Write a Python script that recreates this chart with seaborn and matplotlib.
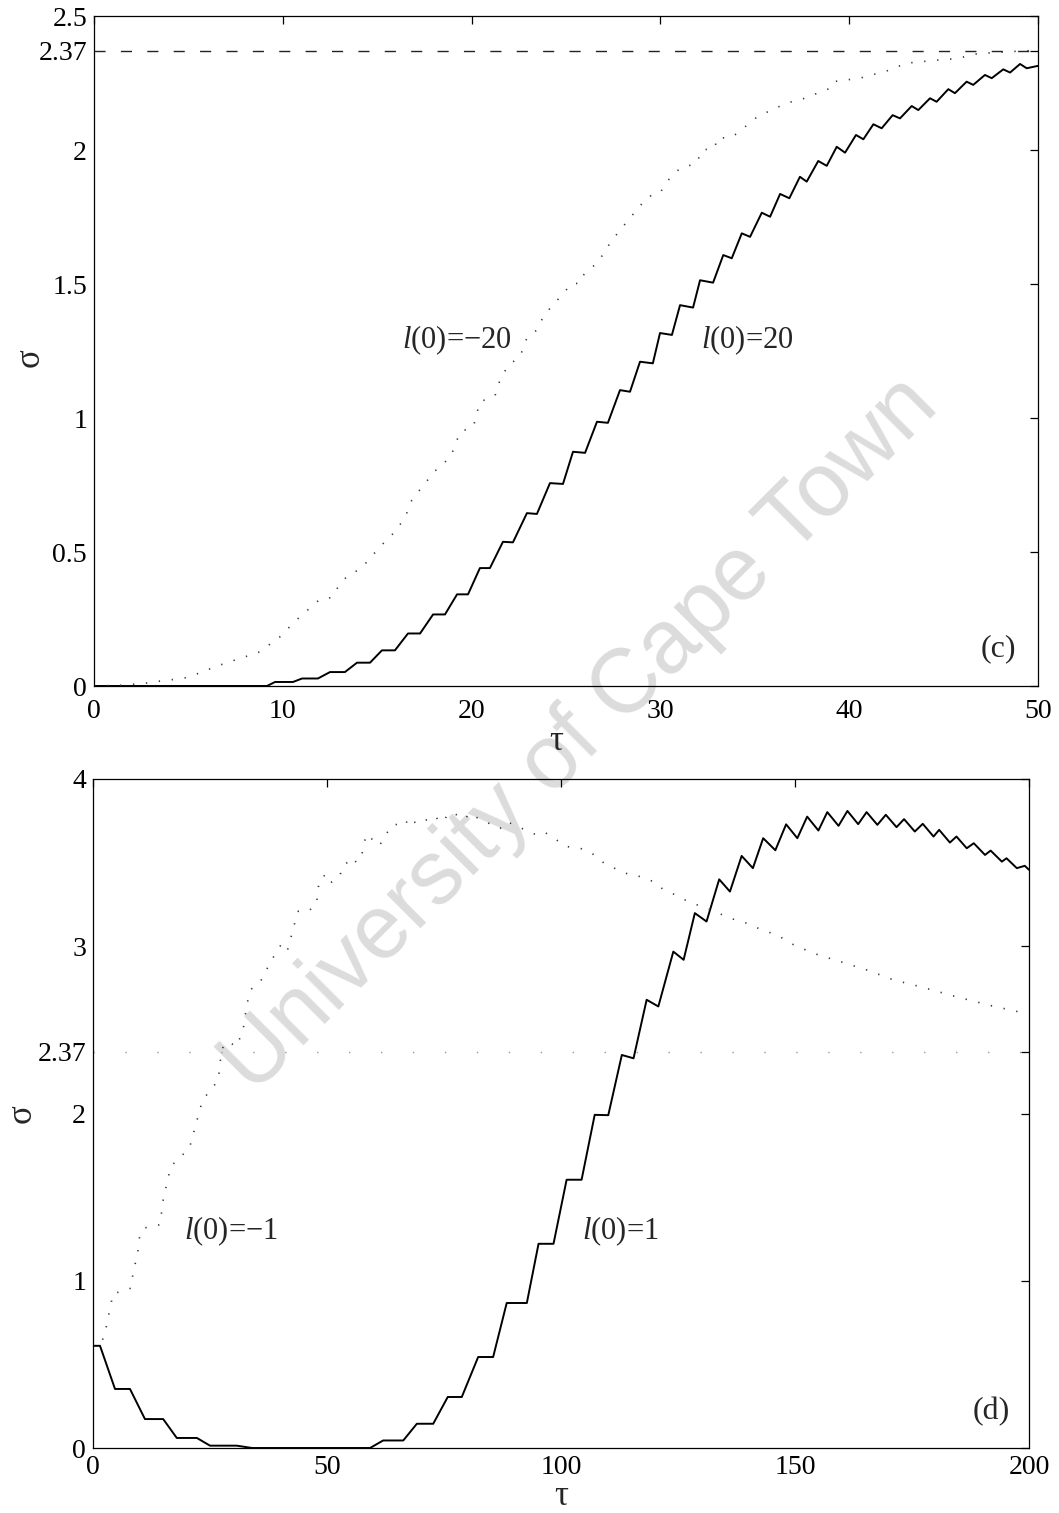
import matplotlib
matplotlib.use("Agg")
import matplotlib.pyplot as plt
import seaborn as sns
import pandas as pd

# ---------------- panel (c) data ----------------
tau_c_pos = [0, 9.16, 9.59, 10.54, 11.02, 11.86, 12.50, 13.29, 13.93, 14.62,
             15.25, 15.94, 16.63, 17.27, 17.96, 18.59, 19.23, 19.81, 20.44, 20.97,
             21.66, 22.19, 22.93, 23.46, 24.15, 24.84, 25.37, 26.01, 26.64, 27.22,
             27.86, 28.39, 28.92, 29.60, 29.98, 30.61, 31.04, 31.73, 32.10, 32.79,
             33.33, 33.78, 34.31, 34.75, 35.37, 35.81, 36.34, 36.83, 37.39, 37.75,
             38.36, 38.81, 39.34, 39.78, 40.36, 40.75, 41.28, 41.72, 42.30, 42.69,
             43.31, 43.66, 44.28, 44.63, 45.25, 45.60, 46.22, 46.57, 47.19, 47.55,
             48.16, 48.52, 49.05, 49.40, 50.0]
sig_c_pos = [0, 0, 0.015, 0.015, 0.028, 0.028, 0.052, 0.052, 0.087, 0.087,
             0.133, 0.133, 0.196, 0.196, 0.267, 0.267, 0.342, 0.342, 0.44, 0.44,
             0.538, 0.536, 0.645, 0.642, 0.757, 0.754, 0.874, 0.870, 0.986, 0.982,
             1.104, 1.098, 1.210, 1.204, 1.317, 1.310, 1.421, 1.412, 1.514, 1.505,
             1.608, 1.596, 1.689, 1.676, 1.766, 1.751, 1.836, 1.820, 1.900, 1.882,
             1.959, 1.941, 2.012, 1.990, 2.056, 2.040, 2.096, 2.081, 2.130, 2.118,
             2.164, 2.149, 2.193, 2.180, 2.227, 2.212, 2.255, 2.243, 2.280, 2.268,
             2.301, 2.289, 2.321, 2.305, 2.314]

tau_c_neg = [0, 1.5, 2.79, 3.76, 4.73, 5.61, 6.5, 7.6, 8.7, 9.8,
             10.7, 11.97, 12.6, 13.03, 13.45, 14.14, 15.18, 16.0, 16.5, 16.83,
             17.36, 18.03, 18.89, 19.39, 20.09, 20.44, 21.24, 21.5, 21.94, 22.56,
             22.92, 23.45, 23.8, 24.15, 24.86, 25.3, 25.74, 25.92, 26.71, 27.4,
             28.2, 28.9, 29.36, 29.98, 30.42, 31.04, 31.92, 32.19, 32.89, 32.98,
             33.78, 34.39, 35.1, 36.07, 36.95, 37.3, 38.98, 39.16, 40.57, 41.99,
             43.04, 44.19, 44.81, 45.34, 45.78, 46.49, 46.93, 47.63, 48.43, 49.4,
             50]
sig_c_neg = [0, 0.003, 0.011, 0.021, 0.028, 0.049, 0.074, 0.10, 0.125, 0.18,
             0.245, 0.324, 0.33, 0.382, 0.412, 0.438, 0.522, 0.58, 0.633, 0.693,
             0.741, 0.80, 0.855, 0.948, 0.967, 1.06, 1.083, 1.141, 1.197, 1.228,
             1.297, 1.328, 1.378, 1.409, 1.465, 1.502, 1.502, 1.533, 1.583, 1.66,
             1.73, 1.79, 1.826, 1.84, 1.888, 1.932, 1.95, 2.0, 2.006, 2.044,
             2.047, 2.081, 2.122, 2.156, 2.18, 2.184, 2.23, 2.255, 2.268, 2.295,
             2.324, 2.332, 2.336, 2.339, 2.342, 2.355, 2.361, 2.363, 2.367, 2.37,
             2.372]

# ---------------- panel (d) data ----------------
tau_d_pos = [0, 1.5, 4.7, 7.9, 11.1, 15.0, 17.9, 22.2, 25.0, 30.7,
             34, 59.2, 62.0, 66.3, 69.2, 72.7, 75.8, 78.8, 82.3, 85.5,
             88.4, 92.7, 95.2, 98.4, 101.2, 104.4, 107.2, 110.1, 113.0, 115.5,
             118.3, 120.8, 124.0, 126.2, 128.6, 131.1, 133.8, 136.1, 138.6, 141.0,
             143.2, 145.8, 148.1, 150.5, 152.6, 155.0, 156.9, 159.3, 161.2, 163.5,
             165.3, 167.6, 169.4, 171.7, 173.3, 175.6, 177.3, 179.6, 180.8, 183.1,
             184.5, 186.7, 188.2, 190.6, 191.8, 194.2, 195.2, 197.4, 199.1, 200]
sig_d_pos = [0.611, 0.611, 0.353, 0.353, 0.173, 0.173, 0.06, 0.06, 0.014, 0.014,
             0.0, 0.0, 0.045, 0.045, 0.145, 0.145, 0.305, 0.305, 0.544, 0.544,
             0.867, 0.867, 1.221, 1.221, 1.604, 1.604, 1.992, 1.99, 2.35, 2.33,
             2.68, 2.64, 2.968, 2.919, 3.198, 3.148, 3.40, 3.327, 3.54, 3.467,
             3.646, 3.574, 3.729, 3.646, 3.775, 3.692, 3.802, 3.720, 3.809, 3.730,
             3.802, 3.726, 3.786, 3.712, 3.760, 3.686, 3.732, 3.656, 3.696, 3.620,
             3.656, 3.586, 3.616, 3.546, 3.572, 3.506, 3.526, 3.467, 3.481, 3.457]

tau_d_neg = [0, 1.6, 2.6, 3.1, 3.6, 4.3, 6.5, 8.1, 8.6, 9.5,
             10.0, 10.9, 14.3, 15.0, 16.6, 20.6, 23.4, 26.8, 27.1, 27.8,
             28.9, 30.6, 32.0, 32.3, 32.8, 33.2, 33.7, 36.0, 38.0, 40.2,
             41.5, 43.4, 43.9, 46.0, 47.8, 47.9, 48.4, 49.8, 50.8, 52.8,
             53.1, 55.5, 56.3, 57.4, 57.9, 58.6, 61.0, 62.0, 62.6, 64.2,
             66.7, 67.4, 69.3, 73.1, 74.1, 75.2, 75.9, 77.4, 79.5, 80.4,
             82.0, 83.8, 87.0, 88.4, 91.6, 94.8, 96.6, 101.2, 104.1, 106.6,
             109.2, 111.9, 114.7, 116.9, 119.7, 121.5, 124.4, 127.2, 130.1, 132.9,
             136.1, 139.7, 142.9, 146.1, 150.0, 154.9, 160.3, 165.7, 171.0, 177.1,
             184.2, 192.0, 198.1, 200]
sig_d_neg = [0.611, 0.617, 0.687, 0.767, 0.827, 0.926, 0.936, 0.956, 1.056, 1.155,
             1.275, 1.315, 1.335, 1.484, 1.683, 1.793, 2.08, 2.2, 2.30, 2.40,
             2.43, 2.40, 2.49, 2.54, 2.64, 2.69, 2.74, 2.80, 2.91, 3.01,
             2.97, 3.17, 3.21, 3.21, 3.25, 3.30, 3.40, 3.43, 3.38, 3.42,
             3.47, 3.53, 3.50, 3.54, 3.62, 3.67, 3.60, 3.63, 3.67, 3.73,
             3.72, 3.77, 3.73, 3.78, 3.74, 3.76, 3.795, 3.79, 3.76, 3.795,
             3.77, 3.745, 3.705, 3.745, 3.705, 3.665, 3.68, 3.596, 3.586, 3.556,
             3.497, 3.46, 3.427, 3.417, 3.387, 3.347, 3.307, 3.267, 3.237, 3.207,
             3.168, 3.138, 3.098, 3.068, 3.004, 2.949, 2.903, 2.855, 2.799, 2.756,
             2.70, 2.644, 2.606, 2.60]

sigma_ref = 2.37
xlim_c = [0, 50]
xlim_d = [0, 200]
yticks_c = [0, 0.5, 1, 1.5, 2, 2.37, 2.5]
yticklabels_c = ["0", "0.5", "1", "1.5", "2", "2.37", "2.5"]
xticks_c = [0, 10, 20, 30, 40, 50]
yticks_d = [0, 1, 2, 2.37, 3, 4]
yticklabels_d = ["0", "1", "2", "2.37", "3", "4"]
xticks_d = [0, 50, 100, 150, 200]
labels_c = ["$l$(0)=\u221220", "$l$(0)=20"]
labels_d = ["$l$(0)=\u22121", "$l$(0)=1"]

# ---------------- style ----------------
sns.set_theme(style="white")
plt.rcParams['font.family'] = ['Liberation Serif', 'DejaVu Serif']
plt.rcParams['mathtext.fontset'] = 'custom'
plt.rcParams['mathtext.rm'] = 'Liberation Serif'
plt.rcParams['mathtext.it'] = 'Liberation Serif:italic'
plt.rcParams['axes.unicode_minus'] = True

W, H = 1059, 1513
fig = plt.figure(figsize=(W / 100, H / 100), dpi=100)
fig.patch.set_facecolor("white")

ax1 = fig.add_axes([94 / W, 1 - 686 / H, (1038 - 94) / W, (686 - 16) / H])
ax2 = fig.add_axes([93 / W, 1 - 1448 / H, (1029 - 93) / W, (1448 - 779) / H])

solid_kw = dict(color="black", linewidth=1.4, estimator=None, sort=False)
dot_kw = dict(color="#3a3a3a", linewidth=1.2, estimator=None, sort=False,
              linestyle=(0, (0.8, 7)))

# panel (c)
sns.lineplot(x=tau_c_pos, y=sig_c_pos, ax=ax1, **solid_kw)
sns.lineplot(x=tau_c_neg, y=sig_c_neg, ax=ax1, **dot_kw)
sns.lineplot(x=xlim_c, y=[sigma_ref, sigma_ref], ax=ax1, color="#222222",
             linewidth=1.0, linestyle=(0, (8, 11)), estimator=None)

# panel (d)
sns.lineplot(x=tau_d_pos, y=sig_d_pos, ax=ax2, **solid_kw)
sns.lineplot(x=tau_d_neg, y=sig_d_neg, ax=ax2, **dot_kw)
sns.lineplot(x=xlim_d, y=[sigma_ref, sigma_ref], ax=ax2, color="#9a9a9a",
             linewidth=1.0, linestyle=(0, (1, 22)), estimator=None)

for ax, xl, yl, xt, yt, ytl in [
    (ax1, xlim_c, (0, 2.5), xticks_c, yticks_c, yticklabels_c),
    (ax2, xlim_d, (0, 4), xticks_d, yticks_d, yticklabels_d),
]:
    ax.set_xlim(*xl)
    ax.set_ylim(*yl)
    ax.set_xticks(xt)
    ax.set_xticklabels([str(v) for v in xt])
    ax.set_yticks(yt)
    ax.set_yticklabels(ytl)
    ax.patch.set_alpha(0)
    for s in ax.spines.values():
        s.set_visible(True)
        s.set_color("black")
        s.set_linewidth(0.9)
    ax.tick_params(axis="both", direction="in", top=True, right=True,
                   length=6, width=0.9, labelsize=20, colors="black")
    ax.set_xlabel("\u03c4", fontsize=25)
    ax.set_ylabel("\u03c3", fontsize=25)
    ax.grid(False)

ax1.tick_params(axis="x", pad=9)
ax1.tick_params(axis="y", pad=5)
ax2.tick_params(axis="x", pad=5)
ax2.tick_params(axis="y", pad=5)
ax1.xaxis.set_label_coords(0.49, -0.058)
ax1.yaxis.set_label_coords(-0.050, 0.49)
ax2.xaxis.set_label_coords(0.5, -0.048)
ax2.yaxis.set_label_coords(-0.058, 0.5)

ax1.text(19.2, 1.29, labels_c[0], fontsize=22, ha="center", va="center")
ax1.text(34.6, 1.29, labels_c[1], fontsize=22, ha="center", va="center")
ax1.text(47.9, 0.14, "(c)", fontsize=23, ha="center", va="center")
ax2.text(29.5, 1.295, labels_d[0], fontsize=22, ha="center", va="center")
ax2.text(112.6, 1.295, labels_d[1], fontsize=22, ha="center", va="center")
ax2.text(192.0, 0.22, "(d)", fontsize=23, ha="center", va="center")

# watermark
fig.text(580 / W, 1 - 735 / H, "University of Cape Town", rotation=45,
         rotation_mode="anchor", fontsize=65, color="#dcdcdc",
         family="Liberation Sans", ha="center", va="center", zorder=-5)

fig.savefig("out.png", dpi=100, facecolor="white")
